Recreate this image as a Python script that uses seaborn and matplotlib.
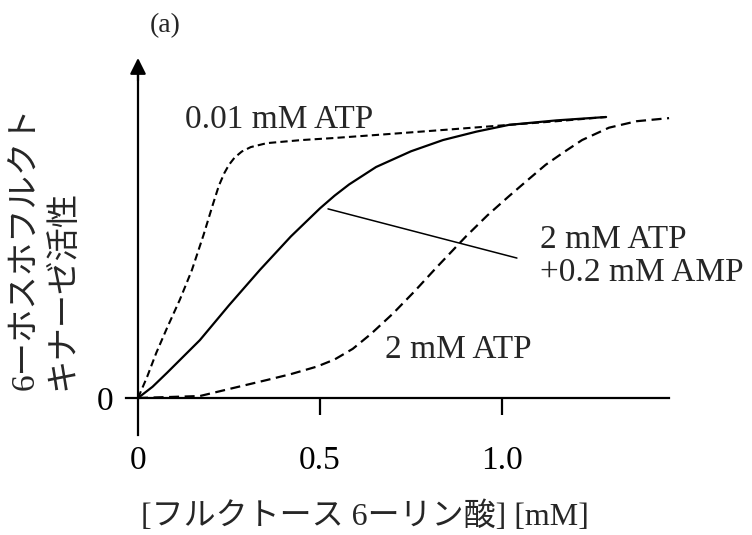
import numpy as np
import pandas as pd
import matplotlib
matplotlib.use("Agg")
import matplotlib.pyplot as plt
import seaborn as sns

# DATOS (unidades arbitrarias de actividad)
x_atp001 = [0, 0.025, 0.05, 0.08, 0.115, 0.148, 0.18, 0.206, 0.222, 0.237, 0.25,
            0.265, 0.285, 0.31, 0.354, 0.45, 0.536, 0.654, 0.85, 1.019, 1.15, 1.286]
y_atp001 = [0, 0.075, 0.16, 0.25, 0.35, 0.455, 0.58, 0.69, 0.755, 0.80, 0.83,
            0.855, 0.877, 0.893, 0.907, 0.918, 0.925, 0.936, 0.955, 0.972, 0.985, 1.0]

x_amp = [0, 0.04, 0.08, 0.17, 0.25, 0.335, 0.42, 0.5, 0.54, 0.58, 0.654, 0.75,
         0.838, 0.93, 1.019, 1.15, 1.286]
y_amp = [0, 0.04, 0.09, 0.206, 0.33, 0.456, 0.575, 0.675, 0.72, 0.76, 0.822, 0.878,
         0.918, 0.948, 0.972, 0.988, 1.0]

x_atp2 = [0, 0.17, 0.26, 0.354, 0.42, 0.492, 0.54, 0.59, 0.64, 0.70, 0.76, 0.819,
          0.901, 0.96, 1.019, 1.07, 1.12, 1.17, 1.22, 1.294, 1.37, 1.459]
y_atp2 = [0, 0.007, 0.035, 0.064, 0.085, 0.112, 0.137, 0.175, 0.228, 0.30, 0.38,
          0.463, 0.575, 0.65, 0.718, 0.775, 0.83, 0.875, 0.918, 0.962, 0.985, 0.996]

x_ticks = [0, 0.5, 1.0]
x_ticklabels = ["0", "0.5", "1.0"]

sns.set_theme(style="white")
plt.rcParams['font.family'] = ['Liberation Serif', 'Noto Sans CJK JP']

fig = plt.figure(figsize=(7.52, 5.35), dpi=100)
ax = fig.add_axes([0, 0, 1, 1])
ax.set_facecolor('white')

# curvas
sns.lineplot(x=x_atp001, y=y_atp001, ax=ax, sort=False, color='black',
             lw=1.5, linestyle=(0, (3.5, 2)))
sns.lineplot(x=x_amp, y=y_amp, ax=ax, sort=False, color='black', lw=1.6)
sns.lineplot(x=x_atp2, y=y_atp2, ax=ax, sort=False, color='black',
             lw=1.6, linestyle=(0, (4.5, 2.5)))

ax.set_xlim(-138 / 364, 614 / 364)
ax.set_ylim(-137 / 281, 398 / 281)

# ejes tipo libro
for s in ['top', 'right']:
    ax.spines[s].set_visible(False)
ax.spines['left'].set_position(('data', 0))
ax.spines['bottom'].set_position(('data', 0))
ax.spines['left'].set_bounds(-0.13, 1.16)
ax.spines['bottom'].set_bounds(-0.033, 1.459)
for s in ['left', 'bottom']:
    ax.spines[s].set_color('black')
    ax.spines[s].set_linewidth(1.6)
ax.annotate('', xy=(0, 1.22), xytext=(0, 1.12),
            arrowprops=dict(arrowstyle='-|>', color='black', lw=1.6,
                            mutation_scale=24))

ax.set_xticks(x_ticks, x_ticklabels)
ax.tick_params(axis='x', direction='out', length=12, width=1.6, pad=22,
               labelsize=24, colors='black', bottom=True)
ax.xaxis.get_major_ticks()[0].tick1line.set_visible(False)
ax.set_yticks([0], ['0'])
ax.tick_params(axis='y', length=0, pad=18, labelsize=24, colors='black', left=True)
ax.grid(False)

# textos
ax.text(0.129, 0.989, '0.01 mM ATP', fontsize=24, ha='left', va='center')
ax.text(1.104, 0.505, '2 mM ATP\n+0.2 mM AMP', fontsize=24, ha='left',
        va='center', linespacing=1.1)
ax.text(0.679, 0.171, '2 mM ATP', fontsize=24, ha='left', va='center')
ax.text(0.074, 1.327, '(a)', fontsize=20, ha='center', va='center')
ax.plot([0.522, 1.041], [0.673, 0.498], color='black', lw=1.1)

ax.text(-0.310, 0.028, '6ーホスホフルクト', fontsize=24, rotation=90,
        ha='center', va='bottom')
ax.text(-0.206, 0.028, 'キナーゼ活性', fontsize=24, rotation=90,
        ha='center', va='bottom')
ax.text(0.624, -0.423, '[フルクトース 6ーリン酸] [mM]', fontsize=23,
        ha='center', va='center')

fig.savefig('out.png', dpi=100, facecolor='white')
